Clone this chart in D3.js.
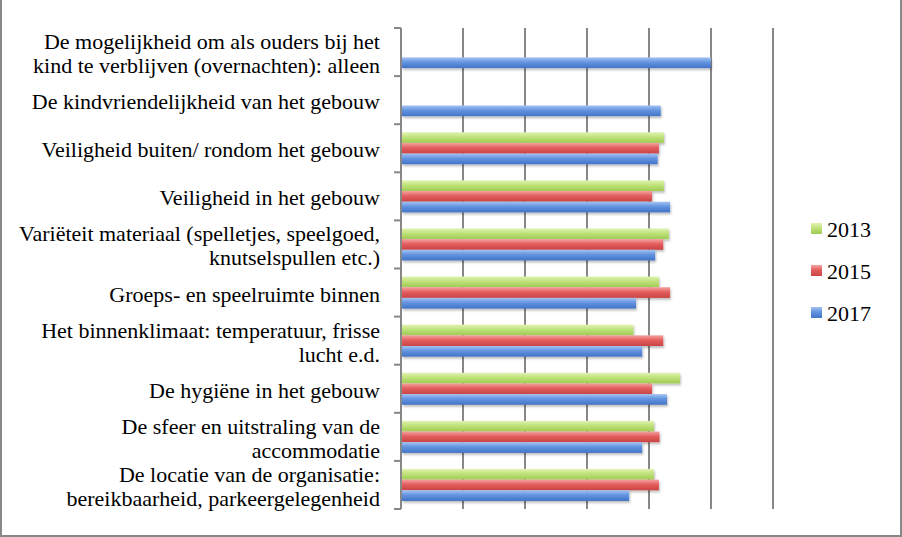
<!DOCTYPE html>
<html>
<head>
<meta charset="utf-8">
<script src="https://cdn.jsdelivr.net/npm/d3@7"></script>
<style>
  html, body { margin: 0; padding: 0; background: #fff; }
  svg { display: block; }
</style>
</head>
<body>
<svg id="chart" width="902" height="537"></svg>
<script>
const categories = [
  ["De mogelijkheid om als ouders bij het", "kind te verblijven (overnachten): alleen"],
  ["De kindvriendelijkheid van het gebouw"],
  ["Veiligheid buiten/ rondom het gebouw"],
  ["Veiligheid in het gebouw"],
  ["Variëteit materiaal (spelletjes, speelgoed,", "knutselspullen etc.)"],
  ["Groeps- en speelruimte binnen"],
  ["Het binnenklimaat: temperatuur, frisse", "lucht e.d."],
  ["De hygiëne in het gebouw"],
  ["De sfeer en uitstraling van de", "accommodatie"],
  ["De locatie van de organisatie:", "bereikbaarheid, parkeergelegenheid"]
];
const seriesNames = ["2013", "2015", "2017"];
const values2013 = [null, null, 4.24, 4.24, 4.32, 4.16, 3.75, 4.50, 4.08, 4.08];
const values2015 = [null, null, 4.16, 4.05, 4.23, 4.34, 4.23, 4.05, 4.17, 4.16];
const values2017 = [5.00, 4.19, 4.14, 4.34, 4.10, 3.79, 3.89, 4.29, 3.89, 3.68];
const gridTicks = [1, 2, 3, 4, 5, 6];

const seriesValues = [values2013, values2015, values2017];
const colors = {
  "2013": ["#e2f3b4", "#bfe27a", "#9fcb52"],
  "2015": ["#f5a3a3", "#e45e5e", "#c94444"],
  "2017": ["#a4c2f2", "#6394e0", "#4273c6"]
};

const svg = d3.select("#chart");
const defs = svg.append("defs");
seriesNames.forEach(s => {
  const g = defs.append("linearGradient").attr("id", "g" + s)
    .attr("x1", 0).attr("y1", 0).attr("x2", 0).attr("y2", 1);
  g.append("stop").attr("offset", "0%").attr("stop-color", colors[s][0]);
  g.append("stop").attr("offset", "45%").attr("stop-color", colors[s][1]);
  g.append("stop").attr("offset", "100%").attr("stop-color", colors[s][2]);
});
const f = defs.append("filter").attr("id", "shadow")
  .attr("x", "-5%").attr("y", "-30%").attr("width", "110%").attr("height", "180%");
f.append("feDropShadow").attr("dx", 1).attr("dy", 2).attr("stdDeviation", 1.2)
  .attr("flood-color", "#000").attr("flood-opacity", 0.25);

const x = d3.scaleLinear().domain([0, 6]).range([401, 773]);
const y = d3.scaleBand().domain(d3.range(categories.length)).range([28, 509])
  .paddingInner(1/3).paddingOuter(1/6);
const ySub = d3.scaleBand().domain(seriesNames).range([0, y.bandwidth()]);

const gridColor = "#878787";

// gridlines
svg.append("g").selectAll("line").data(gridTicks).join("line")
  .attr("x1", d => x(d)).attr("x2", d => x(d))
  .attr("y1", 28).attr("y2", 509)
  .attr("stroke", gridColor).attr("stroke-width", 2);

// bars
const groups = svg.append("g").selectAll("g").data(categories).join("g")
  .attr("transform", (d, i) => `translate(0,${y(i)})`);
seriesNames.forEach((s, si) => {
  groups.filter((d, i) => seriesValues[si][i] != null)
    .append("rect")
    .attr("x", x(0) + 1)
    .attr("y", ySub(s))
    .attr("height", ySub.bandwidth())
    .attr("width", function() {
      const i = categories.indexOf(d3.select(this.parentNode).datum());
      return x(seriesValues[si][i]) - x(0) - 1;
    })
    .attr("fill", `url(#g${s})`)
    .attr("filter", "url(#shadow)");
});

// y axis
const yTickPos = d3.range(categories.length + 1).map(i => 28 + i * (481 / categories.length));
svg.append("line").attr("x1", 401).attr("x2", 401).attr("y1", 28).attr("y2", 509)
  .attr("stroke", gridColor).attr("stroke-width", 2);
svg.append("g").selectAll("line").data(yTickPos).join("line")
  .attr("x1", 394).attr("x2", 401).attr("y1", d => d).attr("y2", d => d)
  .attr("stroke", gridColor).attr("stroke-width", 2);

const fontFamily = "'Liberation Serif', 'Times New Roman', serif";
const fontSize = 22;

// labels
const labels = svg.append("g").attr("font-family", fontFamily).attr("font-size", fontSize)
  .attr("fill", "#000").attr("text-anchor", "end");
categories.forEach((lines, i) => {
  const c = y(i) + y.bandwidth() / 2;
  const n = lines.length;
  lines.forEach((t, li) => {
    labels.append("text").attr("x", 380)
      .attr("y", c + 9 + (li - (n - 1) / 2) * 24)
      .text(t);
  });
});

// legend
const legend = svg.append("g").attr("font-family", fontFamily).attr("font-size", fontSize);
seriesNames.forEach((s, i) => {
  const ly = 223 + i * 42;
  legend.append("rect").attr("x", 811).attr("y", ly).attr("width", 11).attr("height", 11)
    .attr("fill", `url(#g${s})`);
  legend.append("text").attr("x", 827).attr("y", ly + 14).text(s);
});

// border
svg.append("path").attr("d", "M1,0 V536 H901 V0")
  .attr("fill", "none").attr("stroke", "#888").attr("stroke-width", 2);
</script>
</body>
</html>
